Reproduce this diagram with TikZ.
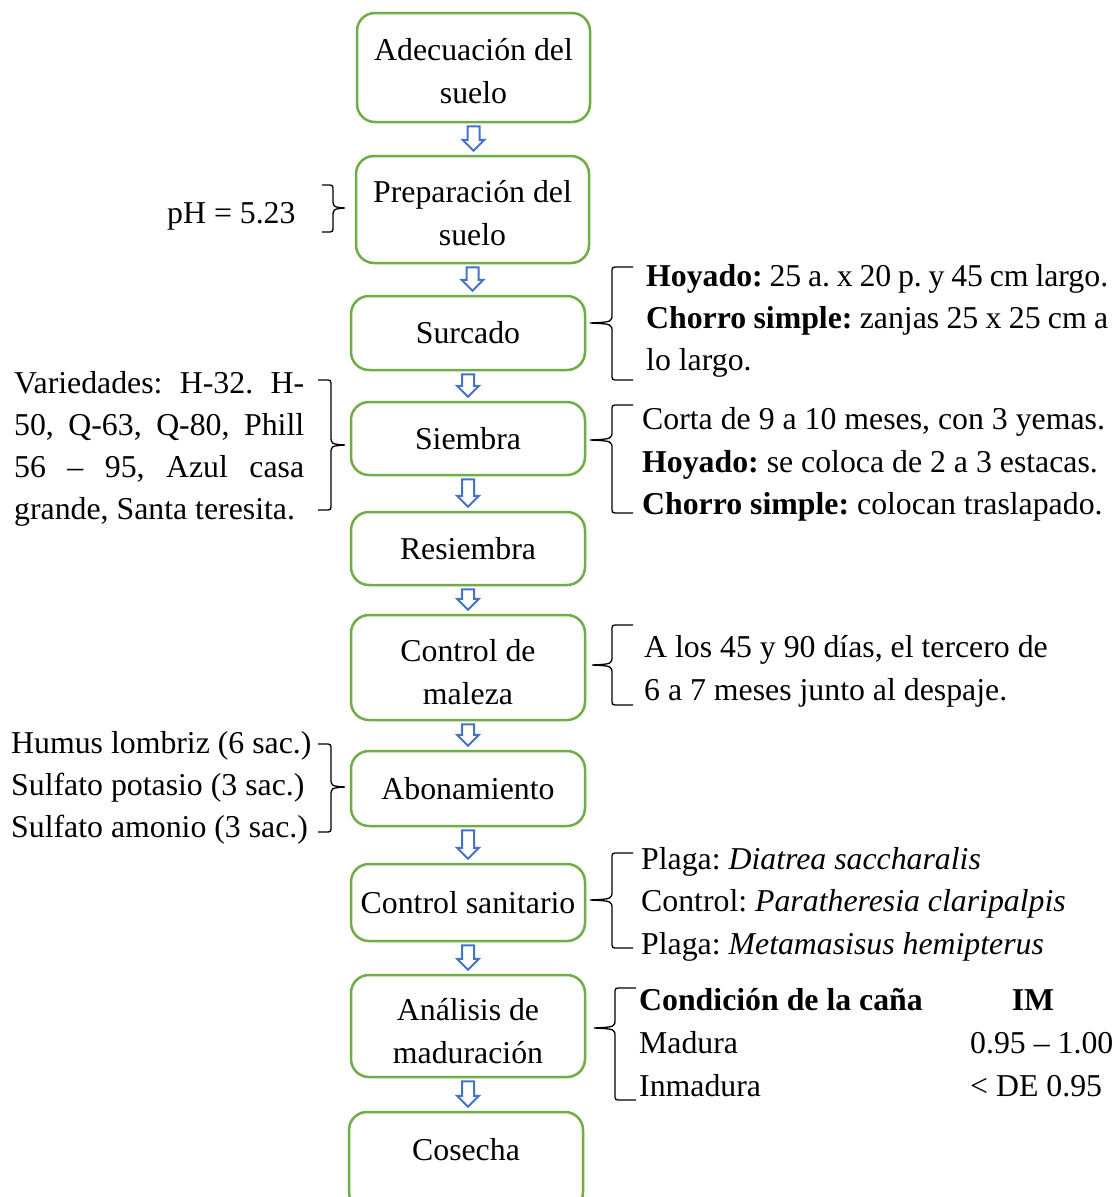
\documentclass[tikz,border=0pt]{standalone}
\usepackage{fontspec}
\setmainfont{Liberation Serif}
\usetikzlibrary{calc}
\definecolor{boxgreen}{HTML}{70AD47}
\definecolor{arrowblue}{HTML}{4472C4}
\frenchspacing

% hollow block arrow from the bottom of one box to the top of the next
\newcommand\flowarrow[2]{%
  \draw[blockarr] let \p1=(#1.south), \p2=(#2.north) in
    (\x1-6pt,\y1-3pt) -- (\x1+6pt,\y1-3pt) -- (\x1+6pt,\y2+15pt) --
    (\x1+11pt,\y2+15pt) -- (\x1,\y2+4pt) -- (\x1-11pt,\y2+15pt) --
    (\x1-6pt,\y2+15pt) -- cycle;}

% opening brace: tip x, stem x, end x, top y, bottom y, tip y
\newcommand\openbrace[6]{%
  \draw[bracestyle] (#3,#4) -- ({#2+6},#4) .. controls (#2,#4) .. (#2,{#4+6})
    -- (#2,{#6-9}) .. controls (#2,{#6-1}) .. (#1,#6)
    .. controls (#2,{#6+1}) .. (#2,{#6+9})
    -- (#2,{#5-6}) .. controls (#2,#5) .. ({#2+6},#5) -- (#3,#5);}
% closing brace: tip x, stem x, end x, top y, bottom y, tip y
\newcommand\closebrace[6]{%
  \draw[bracestyle] (#3,#4) -- ({#2-6},#4) .. controls (#2,#4) .. (#2,{#4+6})
    -- (#2,{#6-9}) .. controls (#2,{#6-1}) .. (#1,#6)
    .. controls (#2,{#6+1}) .. (#2,{#6+9})
    -- (#2,{#5-6}) .. controls (#2,#5) .. ({#2-6},#5) -- (#3,#5);}

\begin{document}
\begin{tikzpicture}[x=1pt,y=-1pt,
  font=\fontsize{31.8}{42.5}\selectfont,
  stepbox/.style={draw=boxgreen, line width=2.5pt, rounded corners=18pt,
    fill=white, minimum width=234pt, align=center, inner sep=0pt},
  steptext/.style={inner sep=0pt, align=center},
  blockarr/.style={draw=arrowblue, line width=2pt, fill=white, line join=miter},
  bracestyle/.style={draw=black, line width=1.3pt},
  txt/.style={inner sep=0pt, anchor=base west}]
\clip (0,0) rectangle (1118,1197);
\fill[white] (0,0) rectangle (1118,1197);

% process steps
\node[stepbox, minimum width=233pt, minimum height=109pt] (b1) at (473.5,67.5) {};
\node[stepbox, minimum width=233pt, minimum height=107pt] (b2) at (472.5,209.5) {};
\node[stepbox, minimum height=74pt] (b3) at (468,333) {Surcado};
\node[stepbox, minimum height=73pt] (b4) at (468,438.5) {Siembra};
\node[stepbox, minimum height=73pt] (b5) at (468,548.5) {Resiembra};
\node[stepbox, minimum height=105pt] (b6) at (468,667.5) {};
\node[stepbox, minimum height=75pt] (b7) at (468,788.5) {Abonamiento};
\node[stepbox, minimum height=77pt] (b8) at (468,902.5) {Control sanitario};
\node[stepbox, minimum height=102pt] (b9) at (468,1026) {};
\node[stepbox, minimum height=98pt] (b10) at (466,1161) {};

% two-line step labels and the last step
\node[steptext] (b1t) at (473.5,71) {Adecuación del\\suelo};
\node[steptext] (b2t) at (472.5,213) {Preparación del\\suelo};
\node[steptext] (b6t) at (468,672) {Control de\\maleza};
\node[steptext] (b9t) at (468,1031) {Análisis de\\maduración};
\node[steptext] (b10t) at (466,1150) {Cosecha};

% arrows between steps
\flowarrow{b1}{b2}
\flowarrow{b2}{b3}
\flowarrow{b3}{b4}
\flowarrow{b4}{b5}
\flowarrow{b5}{b6}
\flowarrow{b6}{b7}
\flowarrow{b7}{b8}
\flowarrow{b8}{b9}
\flowarrow{b9}{b10}

% notes on the left
\node[txt] (ph) at (167,223.5) {pH = 5.23};
\closebrace{345}{333}{322}{185}{232}{208}

\node[txt] (v1) at (14,393.5) {\makebox[290pt][s]{Variedades: H-32. H-}};
\node[txt] (v2) at (14,435.5) {\makebox[290pt][s]{50, Q-63, Q-80, Phill}};
\node[txt] (v3) at (14,477.5) {\makebox[290pt][s]{56 – 95, Azul casa}};
\node[txt] (v4) at (14,519.5) {grande, Santa teresita.};
\closebrace{345}{331}{318}{380}{510}{445}

\node[txt] (a1) at (11,753.5) {Humus lombriz (6 sac.)};
\node[txt] (a2) at (11,795.5) {Sulfato potasio (3 sac.)};
\node[txt] (a3) at (11,837.5) {Sulfato amonio (3 sac.)};
\closebrace{345}{331}{318}{744}{832}{787}

% notes on the right
\openbrace{590}{612}{633}{267}{380}{323}
\node[txt] (s1) at (646,286.5) {\makebox[462pt][s]{\textbf{Hoyado:} 25 a. x 20 p. y 45 cm largo.}};
\node[txt] (s2) at (646,328.5) {\makebox[462pt][s]{\textbf{Chorro simple:} zanjas 25 x 25 cm a}};
\node[txt] (s3) at (646,370.5) {lo largo.};

\openbrace{590}{612}{633}{405}{513}{440}
\node[txt] (e1) at (642,429.5) {Corta de 9 a 10 meses, con 3 yemas.};
\node[txt] (e2) at (642,472.5) {\textbf{Hoyado:} se coloca de 2 a 3 estacas.};
\node[txt] (e3) at (642,514.5) {\textbf{Chorro simple:} colocan traslapado.};

\openbrace{592}{612}{633}{625}{705}{665}
\node[txt] (m1) at (644,657.5) {A los 45 y 90 días, el tercero de};
\node[txt] (m2) at (644,700.5) {6 a 7 meses junto al despaje.};

\openbrace{590}{612}{633}{853}{948}{900}
\node[txt] (c1) at (641,869.5) {Plaga: \textit{Diatrea saccharalis}};
\node[txt] (c2) at (641,911.5) {Control: \textit{Paratheresia claripalpis}};
\node[txt] (c3) at (641,954.5) {Plaga: \textit{Metamasisus hemipterus}};

\openbrace{594}{615}{636}{988}{1100}{1028}
\node[txt] (t1) at (639,1010.5) {\textbf{Condición de la caña}};
\node[inner sep=0pt, anchor=base] (t2) at (1033,1010.5) {\textbf{IM}};
\node[txt] (t3) at (639,1053.5) {Madura};
\node[txt] (t4) at (970,1053.5) {0.95 – 1.00};
\node[txt] (t5) at (639,1096.5) {Inmadura};
\node[txt] (t6) at (970,1096.5) {< DE 0.95};
\end{tikzpicture}
\end{document}
